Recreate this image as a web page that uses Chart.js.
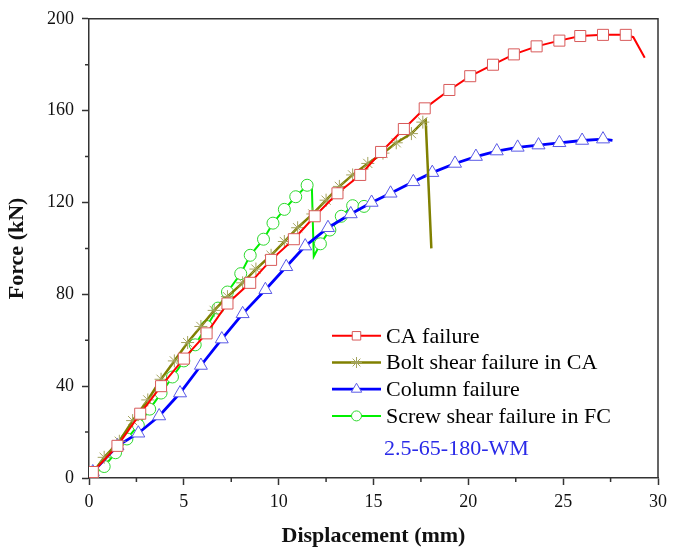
<!DOCTYPE html>
<html>
<head>
<meta charset="utf-8">
<script src="https://cdn.jsdelivr.net/npm/chart.js@4/dist/chart.umd.min.js"></script>
<style>
  html, body { margin: 0; padding: 0; background: #fff; }
  #wrap { width: 673px; height: 553px; }
</style>
</head>
<body>
<div id="wrap"><canvas id="c" width="673" height="553"></canvas></div>
<script>
// CA failure
const caX = [0, 0.2, 1.5, 2.7, 3.8, 5.0, 6.2, 7.3, 8.5, 9.6, 10.8, 11.9, 13.1, 14.3, 15.4, 16.6, 17.7, 19.0, 20.1, 21.3, 22.4, 23.6, 24.8, 25.9, 27.1, 28.3, 28.7, 29.3];
const caY = [0, 2.6, 14, 28, 40, 52, 63, 76, 85, 95, 104, 114, 124, 132, 142, 152, 161, 169, 175, 180, 184.5, 188, 190.5, 192.5, 193, 193, 192, 183];

// Bolt shear failure in CA
const boltX = [0, 0.8, 1.6, 2.3, 3.1, 3.8, 4.5, 5.2, 5.9, 6.6, 7.3, 8.1, 8.8, 9.6, 10.3, 11.0, 11.8, 12.5, 13.2, 13.9, 14.7, 15.5, 16.2, 17.0, 17.6, 17.75, 18.05];
const boltY = [0, 9, 16, 25, 34, 43, 51, 59, 66, 73, 79, 85, 91, 97, 103, 109, 115, 121, 127, 132, 137, 141.5, 146, 150, 155, 156, 100];

// Column failure
const colX = [0, 0.2, 1.5, 2.6, 3.7, 4.8, 5.9, 7.0, 8.1, 9.3, 10.4, 11.4, 12.6, 13.8, 14.9, 15.9, 17.1, 18.1, 19.3, 20.4, 21.5, 22.6, 23.7, 24.8, 26.0, 27.1, 27.6];
const colY = [0, 2.6, 14, 19.5, 27, 37, 49, 60.5, 71.5, 82, 92, 101, 109, 115, 120, 124, 129, 133, 137, 140, 142.4, 144, 145, 146, 147, 147.6, 147];

// Screw shear failure in FC
const screwX = [0, 0.2, 0.8, 1.4, 2.0, 2.6, 3.2, 3.8, 4.4, 5.0, 5.6, 6.2, 6.8, 7.3, 8.0, 8.5, 9.2, 9.7, 10.3, 10.9, 11.5, 11.75, 11.85, 12.2, 12.7, 13.3, 13.9, 14.5];
const screwY = [0, 1.3, 5, 11, 17, 23, 30, 37, 44, 51, 58, 66, 74, 81, 89, 97, 104, 111, 117, 122.5, 127.5, 127, 96.5, 102, 108, 114, 118.6, 118.3];

const seriesLabels = ['CA failure', 'Bolt shear failure in CA', 'Column failure', 'Screw shear failure in FC'];
const xTicks = [0, 5, 10, 15, 20, 25, 30];
const yTicks = [0, 40, 80, 120, 160, 200];
const xMinor = [2.5, 7.5, 12.5, 17.5, 22.5, 27.5];
const yMinor = [20, 60, 100, 140, 180];
const noteText = '2.5-65-180-WM';

const FONT = "'Liberation Serif', 'Times New Roman', serif";
const AXIS = '#333';

function series(label, xs, ys, st, skip) {
  return {
    label: label,
    data: xs.map((x, i) => ({ x: x, y: ys[i] })),
    borderColor: st.line,
    borderWidth: st.lw,
    pointStyle: st.marker,
    pointBorderColor: st.mark,
    pointBackgroundColor: '#fff',
    pointBorderWidth: 1,
    pointRadius: c => skip.includes(c.dataIndex) ? 0 : st.r,
    pointHoverRadius: 0,
    tension: 0,
    fill: false,
    legendR: st.lr
  };
}

const datasets = [
  series(seriesLabels[0], caX, caY, { line: '#ff0000', mark: '#d85a5a', lw: 2, marker: 'rect', r: 7.8, lr: 6 }, [0, caX.length - 2, caX.length - 1]),
  series(seriesLabels[1], boltX, boltY, { line: '#808000', mark: '#a3a35e', lw: 2.5, marker: 'star', r: 6.5, lr: 5.5 }, [0, boltX.length - 2, boltX.length - 1]),
  series(seriesLabels[2], colX, colY, { line: '#0000ff', mark: '#5a5ae6', lw: 2.8, marker: 'triangle', r: 7.5, lr: 6 }, [0, colX.length - 1]),
  series(seriesLabels[3], screwX, screwY, { line: '#00f000', mark: '#2ed82e', lw: 2, marker: 'circle', r: 6, lr: 5 }, [0, 21, 22])
];

// frame, minor ticks, legend and note
const extras = {
  id: 'extras',
  afterDraw(chart) {
    const ctx = chart.ctx;
    const a = chart.chartArea;
    const xs = chart.scales.x, ys = chart.scales.y;
    ctx.save();
    ctx.strokeStyle = AXIS;
    ctx.lineWidth = 1.5;
    ctx.beginPath();
    ctx.moveTo(a.left, a.top); ctx.lineTo(a.right, a.top); ctx.lineTo(a.right, a.bottom);
    ctx.stroke();
    ctx.beginPath();
    xMinor.forEach(v => { const p = xs.getPixelForValue(v); ctx.moveTo(p, a.bottom); ctx.lineTo(p, a.bottom + 4); });
    yMinor.forEach(v => { const p = ys.getPixelForValue(v); ctx.moveTo(a.left, p); ctx.lineTo(a.left - 4, p); });
    ctx.stroke();

    // legend
    const lx0 = a.left + 243, lx1 = a.left + 292, tx = a.left + 297;
    let ly = a.top + 317;
    ctx.font = '22px ' + FONT;
    ctx.textBaseline = 'middle';
    ctx.textAlign = 'left';
    chart.data.datasets.forEach(ds => {
      ctx.strokeStyle = ds.borderColor;
      ctx.lineWidth = ds.borderWidth;
      ctx.beginPath(); ctx.moveTo(lx0, ly); ctx.lineTo(lx1, ly); ctx.stroke();
      ctx.strokeStyle = ds.pointBorderColor;
      ctx.fillStyle = '#fff';
      ctx.lineWidth = 1;
      Chart.helpers.drawPoint(ctx, { pointStyle: ds.pointStyle, radius: ds.legendR, rotation: 0, borderWidth: 1 }, (lx0 + lx1) / 2, ly);
      ctx.fillStyle = '#000';
      ctx.fillText(ds.label, tx, ly + 1);
      ly += 26.7;
    });
    ctx.fillStyle = '#2a2ae8';
    ctx.fillText(noteText, tx - 2, ly + 7);
    ctx.restore();
  }
};

new Chart(document.getElementById('c'), {
  type: 'line',
  data: { datasets: datasets },
  plugins: [extras],
  options: {
    responsive: false,
    animation: false,
    events: [],
    layout: { padding: { top: 16, right: 11, left: 0, bottom: 0 } },
    plugins: { legend: { display: false }, tooltip: { enabled: false } },
    scales: {
      x: {
        type: 'linear', min: 0, max: 30,
        afterFit: s => { s.height = 75; },
        afterBuildTicks: s => { s.ticks = xTicks.map(v => ({ value: v })); },
        grid: { drawOnChartArea: false, tickLength: 7, tickColor: AXIS, tickWidth: 1.5 },
        border: { color: AXIS, width: 1.5 },
        ticks: { color: '#111', padding: 6, maxRotation: 0, font: { family: FONT, size: 18 } },
        title: { display: true, text: 'Displacement (mm)', color: '#111', padding: { top: 0, bottom: 3 }, font: { family: FONT, size: 22, weight: 'bold' } }
      },
      y: {
        type: 'linear', min: 0, max: 200,
        afterFit: s => { s.width = 89; },
        afterBuildTicks: s => { s.ticks = yTicks.map(v => ({ value: v })); },
        grid: { drawOnChartArea: false, tickLength: 7, tickColor: AXIS, tickWidth: 1.5 },
        border: { color: AXIS, width: 1.5 },
        ticks: { color: '#111', padding: 8, font: { family: FONT, size: 18 } },
        title: { display: true, text: 'Force (kN)', color: '#111', padding: { top: 4, bottom: 0 }, font: { family: FONT, size: 22, weight: 'bold' } }
      }
    }
  }
});
</script>
</body>
</html>
